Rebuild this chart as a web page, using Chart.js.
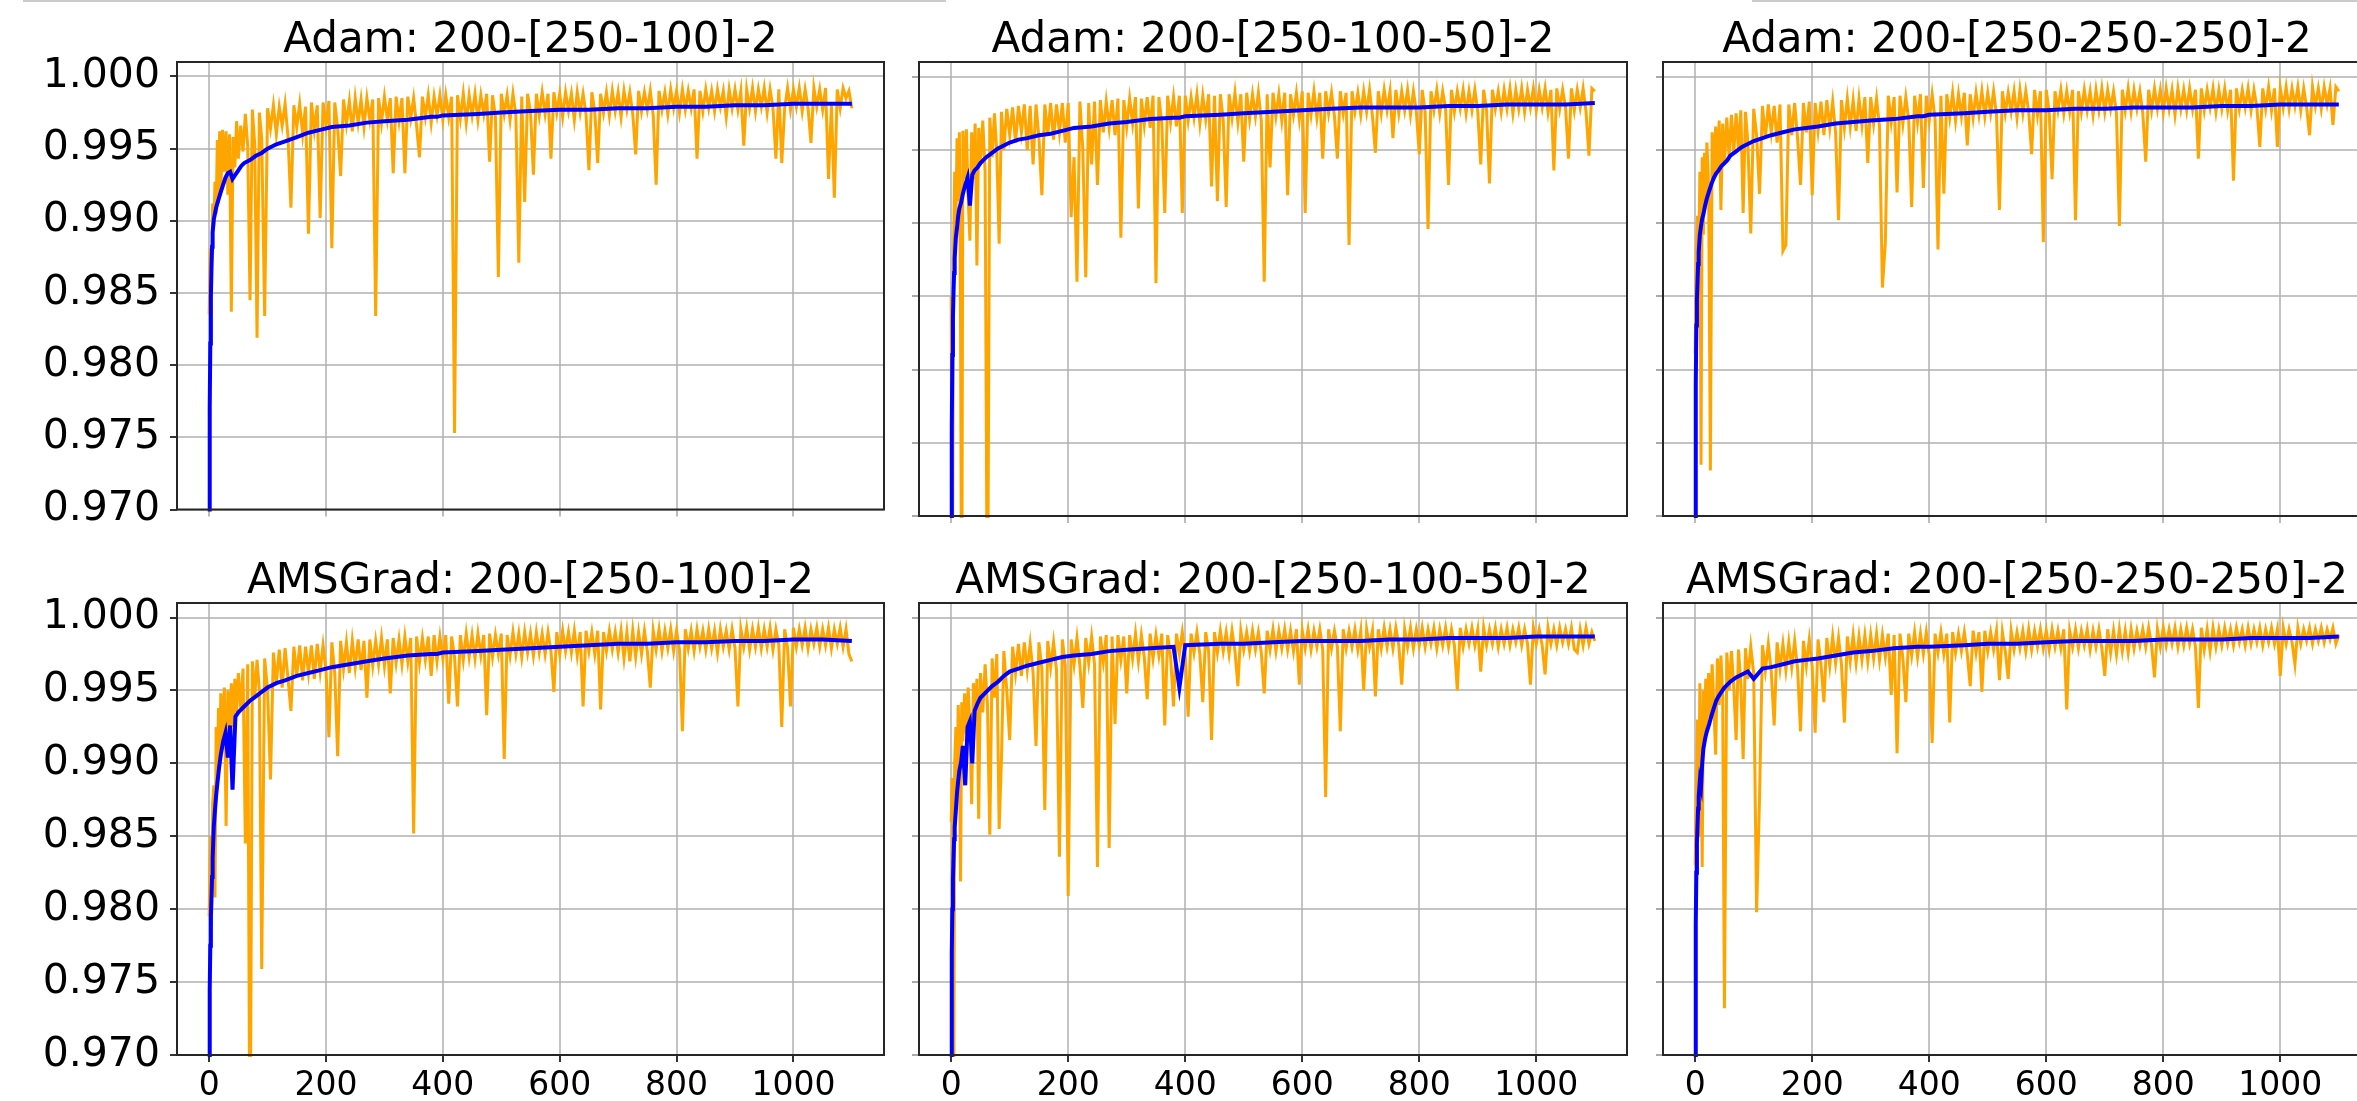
<!DOCTYPE html>
<html>
<head>
<meta charset="utf-8">
<script src="https://cdn.jsdelivr.net/npm/chart.js@4.4.1/dist/chart.umd.min.js"></script>
<style>
  html, body { margin: 0; padding: 0; background: #fff; overflow: hidden; width: 2357px; height: 1101px; }
  canvas { position: absolute; }
  .frame { position: absolute; top: 0; height: 2px; background: #cacaca; }
</style>
</head>
<body>
<div class="frame" style="left:23px;width:923px"></div>
<div class="frame" style="left:1752px;width:605px"></div>
<script>
// ticks
const xTickValues = [0, 200, 400, 600, 800, 1000];
const yTickValues = [0.970, 0.975, 0.980, 0.985, 0.990, 0.995, 1.000];

const panelTitles = [
  "Adam: 200-[250-100]-2", "Adam: 200-[250-100-50]-2", "Adam: 200-[250-250-250]-2",
  "AMSGrad: 200-[250-100]-2", "AMSGrad: 200-[250-100-50]-2", "AMSGrad: 200-[250-250-250]-2"
];

// epochs of the raw (orange) curves
const orangeEpochs = [
  0, 2, 4, 6, 8, 10, 12, 14, 16, 18,
  20, 23, 26, 29, 32, 35, 38, 41, 44, 47,
  50, 54, 58, 62, 66, 70, 74, 78, 82, 86,
  90, 95,
  100, 105, 110, 115, 120, 125, 130, 135, 140, 145,
  150, 155, 160, 165, 170, 175, 180, 185, 190, 195,
  200, 205, 210, 215, 220, 225, 230, 235, 240, 245,
  250, 255, 260, 265, 270, 275, 280, 285, 290, 295,
  300, 305, 310, 315, 320, 325, 330, 335, 340, 345,
  350, 355, 360, 365, 370, 375, 380, 385, 390, 395,
  400, 405, 410, 415, 420, 425, 430, 435, 440, 445,
  450, 455, 460, 465, 470, 475, 480, 485, 490, 495,
  500, 505, 510, 515, 520, 525, 530, 535, 540, 545,
  550, 555, 560, 565, 570, 575, 580, 585, 590, 595,
  600, 605, 610, 615, 620, 625, 630, 635, 640, 645,
  650, 655, 660, 665, 670, 675, 680, 685, 690, 695,
  700, 705, 710, 715, 720, 725, 730, 735, 740, 745,
  750, 755, 760, 765, 770, 775, 780, 785, 790, 795,
  800, 805, 810, 815, 820, 825, 830, 835, 840, 845,
  850, 855, 860, 865, 870, 875, 880, 885, 890, 895,
  900, 905, 910, 915, 920, 925, 930, 935, 940, 945,
  950, 955, 960, 965, 970, 975, 980, 985, 990, 995,
  1000, 1005, 1010, 1015, 1020, 1025, 1030, 1035, 1040, 1045,
  1050, 1055, 1060, 1065, 1070, 1075, 1080, 1085, 1090, 1095,
  1100
];

// epochs of the smoothed (blue) curves
const blueEpochs = [
  0, 1, 2, 3, 4, 5, 6, 8, 10, 12,
  14, 17, 20, 24, 28, 32, 36, 40, 45, 50,
  55, 60, 70, 80, 90, 100, 115, 130, 150, 170,
  190, 210, 240, 270, 300, 340, 380, 390, 400, 460,
  500, 550, 600, 650, 700, 750, 800, 850, 900, 950,
  1000, 1050, 1100
];

// Adam 200-[250-100]-2
const orangeAdam1 = [
  0.9835, 0.9881, 0.9852, 0.9912, 0.9896, 0.9927, 0.9905, 0.9956, 0.9912, 0.9962,
  0.9921, 0.9963, 0.9934, 0.9962, 0.9918, 0.9960, 0.9837, 0.9958, 0.9937, 0.9969,
  0.9943, 0.9966, 0.9948, 0.9974, 0.9952, 0.9845, 0.9977, 0.9953, 0.9819, 0.9975,
  0.9957, 0.9834,
  0.9978, 0.9964, 0.9980, 0.9960, 0.9979, 0.9966, 0.9981, 0.9958, 0.9909, 0.9980,
  0.9965, 0.9981, 0.9960, 0.9979, 0.9891, 0.9982, 0.9963, 0.9980, 0.9902, 0.9982,
  0.9966, 0.9983, 0.9881, 0.9982, 0.9964, 0.9931, 0.9984, 0.9967, 0.9983, 0.9962,
  0.9985, 0.9968, 0.9984, 0.9965, 0.9985, 0.9970, 0.9984, 0.9834, 0.9985, 0.9968,
  0.9986, 0.9970, 0.9985, 0.9933, 0.9986, 0.9969, 0.9985, 0.9933, 0.9986, 0.9971,
  0.9985, 0.9966, 0.9944, 0.9986, 0.9972, 0.9987, 0.9968, 0.9986, 0.9973, 0.9987,
  0.9970, 0.9987, 0.9972, 0.9986, 0.9753, 0.9987, 0.9971, 0.9988, 0.9968, 0.9987,
  0.9973, 0.9988, 0.9970, 0.9987, 0.9974, 0.9988, 0.9941, 0.9987, 0.9972, 0.9861,
  0.9988, 0.9974, 0.9987, 0.9970, 0.9988, 0.9973, 0.9871, 0.9986, 0.9913, 0.9988,
  0.9975, 0.9932, 0.9988, 0.9973, 0.9989, 0.9974, 0.9988, 0.9943, 0.9989, 0.9975,
  0.9988, 0.9972, 0.9989, 0.9976, 0.9988, 0.9970, 0.9989, 0.9975, 0.9988, 0.9974,
  0.9935, 0.9989, 0.9976, 0.9940, 0.9988, 0.9975, 0.9989, 0.9973, 0.9990, 0.9976,
  0.9989, 0.9972, 0.9990, 0.9977, 0.9989, 0.9974, 0.9946, 0.9990, 0.9976, 0.9989,
  0.9977, 0.9990, 0.9973, 0.9925, 0.9990, 0.9977, 0.9989, 0.9974, 0.9991, 0.9978,
  0.9990, 0.9975, 0.9991, 0.9977, 0.9990, 0.9978, 0.9991, 0.9943, 0.9990, 0.9976,
  0.9991, 0.9978, 0.9990, 0.9976, 0.9991, 0.9979, 0.9990, 0.9972, 0.9991, 0.9978,
  0.9991, 0.9977, 0.9990, 0.9952, 0.9991, 0.9978, 0.9992, 0.9976, 0.9991, 0.9979,
  0.9992, 0.9975, 0.9991, 0.9978, 0.9943, 0.9991, 0.9940, 0.9978, 0.9992, 0.9977,
  0.9991, 0.9979, 0.9992, 0.9976, 0.9991, 0.9978, 0.9954, 0.9992, 0.9979, 0.9991,
  0.9977, 0.9992, 0.9929, 0.9980, 0.9916, 0.9991, 0.9978, 0.9992, 0.9985, 0.9990,
  0.9978
];
const blueAdam1 = [
  0.9695, 0.9770, 0.9815, 0.9847, 0.9868, 0.9882, 0.9892, 0.9901, 0.9905, 0.9909,
  0.9912, 0.9916, 0.9920, 0.9925, 0.9930, 0.9933, 0.9934, 0.9929, 0.9932, 0.9935,
  0.9938, 0.9940, 0.9942, 0.9945, 0.9947, 0.9950, 0.9953, 0.9955, 0.9958, 0.9961,
  0.9963, 0.9965, 0.9966, 0.9968, 0.9969, 0.9970, 0.9972, 0.9972, 0.9973, 0.9974,
  0.9975, 0.9976, 0.9977, 0.9977, 0.9978, 0.9978, 0.9979, 0.9979, 0.9980, 0.9980,
  0.9981, 0.9981, 0.9981
];

// Adam 200-[250-100-50]-2
const orangeAdam2 = [
  0.9850, 0.9600, 0.9880, 0.9935, 0.9900, 0.9958, 0.9915, 0.9962, 0.9831, 0.9600,
  0.9963, 0.9930, 0.9964, 0.9918, 0.9888, 0.9962, 0.9930, 0.9968, 0.9871, 0.9965,
  0.9940, 0.9970, 0.9935, 0.9600, 0.9972, 0.9945, 0.9975, 0.9948, 0.9886, 0.9976,
  0.9950, 0.9978,
  0.9960, 0.9979, 0.9955, 0.9980, 0.9962, 0.9981, 0.9950, 0.9980, 0.9940, 0.9981,
  0.9958, 0.9919, 0.9981, 0.9960, 0.9982, 0.9957, 0.9981, 0.9962, 0.9982, 0.9955,
  0.9982, 0.9904, 0.9945, 0.9860, 0.9983, 0.9950, 0.9863, 0.9982, 0.9940, 0.9983,
  0.9926, 0.9984, 0.9962, 0.9983, 0.9965, 0.9984, 0.9960, 0.9985, 0.9890, 0.9984,
  0.9966, 0.9985, 0.9968, 0.9986, 0.9910, 0.9985, 0.9967, 0.9986, 0.9965, 0.9987,
  0.9859, 0.9986, 0.9968, 0.9907, 0.9987, 0.9969, 0.9986, 0.9966, 0.9987, 0.9907,
  0.9987, 0.9970, 0.9986, 0.9972, 0.9988, 0.9968, 0.9987, 0.9971, 0.9988, 0.9925,
  0.9987, 0.9915, 0.9988, 0.9970, 0.9911, 0.9988, 0.9972, 0.9989, 0.9969, 0.9988,
  0.9942, 0.9989, 0.9971, 0.9988, 0.9973, 0.9989, 0.9970, 0.9860, 0.9988, 0.9938,
  0.9989, 0.9973, 0.9988, 0.9970, 0.9989, 0.9919, 0.9988, 0.9974, 0.9989, 0.9971,
  0.9990, 0.9907, 0.9989, 0.9974, 0.9990, 0.9972, 0.9989, 0.9944, 0.9990, 0.9975,
  0.9989, 0.9973, 0.9944, 0.9990, 0.9975, 0.9989, 0.9885, 0.9990, 0.9976, 0.9989,
  0.9974, 0.9990, 0.9976, 0.9991, 0.9973, 0.9948, 0.9990, 0.9975, 0.9991, 0.9977,
  0.9990, 0.9958, 0.9991, 0.9975, 0.9990, 0.9977, 0.9991, 0.9974, 0.9990, 0.9976,
  0.9947, 0.9991, 0.9976, 0.9896, 0.9990, 0.9977, 0.9991, 0.9975, 0.9990, 0.9978,
  0.9926, 0.9991, 0.9976, 0.9990, 0.9978, 0.9991, 0.9975, 0.9990, 0.9977, 0.9991,
  0.9976, 0.9940, 0.9991, 0.9977, 0.9927, 0.9991, 0.9978, 0.9990, 0.9976, 0.9991,
  0.9978, 0.9992, 0.9975, 0.9991, 0.9978, 0.9992, 0.9976, 0.9991, 0.9979, 0.9992,
  0.9977, 0.9991, 0.9979, 0.9992, 0.9976, 0.9991, 0.9936, 0.9992, 0.9978, 0.9991,
  0.9979, 0.9944, 0.9992, 0.9977, 0.9991, 0.9979, 0.9992, 0.9976, 0.9946, 0.9992,
  0.9990
];
const blueAdam2 = [
  0.9690, 0.9760, 0.9810, 0.9835, 0.9853, 0.9866, 0.9876, 0.9890, 0.9897, 0.9905,
  0.9910, 0.9914, 0.9920, 0.9926, 0.9931, 0.9912, 0.9933, 0.9936, 0.9938, 0.9941,
  0.9943, 0.9945, 0.9948, 0.9951, 0.9953, 0.9955, 0.9957, 0.9958, 0.9960, 0.9961,
  0.9963, 0.9965, 0.9966, 0.9968, 0.9969, 0.9971, 0.9972, 0.9972, 0.9973, 0.9974,
  0.9975, 0.9976, 0.9977, 0.9978, 0.9979, 0.9979, 0.9979, 0.9980, 0.9980, 0.9981,
  0.9981, 0.9981, 0.9982
];

// Adam 200-[250-250-250]-2
const orangeAdam3 = [
  0.9811, 0.9880, 0.9905, 0.9870, 0.9935, 0.9735, 0.9945, 0.9892, 0.9948, 0.9915,
  0.9955, 0.9925, 0.9731, 0.9962, 0.9930, 0.9966, 0.9935, 0.9970, 0.9909, 0.9968,
  0.9940, 0.9972, 0.9945, 0.9974, 0.9948, 0.9975, 0.9950, 0.9977, 0.9907, 0.9976,
  0.9955, 0.9893,
  0.9978, 0.9960, 0.9920, 0.9980, 0.9958, 0.9981, 0.9962, 0.9980, 0.9955, 0.9981,
  0.9881, 0.9885, 0.9981, 0.9960, 0.9982, 0.9958, 0.9926, 0.9982, 0.9962, 0.9983,
  0.9919, 0.9982, 0.9963, 0.9983, 0.9960, 0.9984, 0.9965, 0.9983, 0.9962, 0.9902,
  0.9984, 0.9965, 0.9985, 0.9966, 0.9984, 0.9963, 0.9985, 0.9967, 0.9986, 0.9941,
  0.9986, 0.9968, 0.9985, 0.9966, 0.9856, 0.9887, 0.9987, 0.9969, 0.9986, 0.9921,
  0.9987, 0.9968, 0.9986, 0.9970, 0.9911, 0.9987, 0.9969, 0.9988, 0.9924, 0.9987,
  0.9970, 0.9988, 0.9971, 0.9882, 0.9987, 0.9920, 0.9988, 0.9972, 0.9989, 0.9970,
  0.9988, 0.9973, 0.9989, 0.9953, 0.9988, 0.9972, 0.9989, 0.9974, 0.9990, 0.9973,
  0.9989, 0.9975, 0.9990, 0.9974, 0.9909, 0.9990, 0.9975, 0.9989, 0.9976, 0.9990,
  0.9972, 0.9991, 0.9975, 0.9990, 0.9976, 0.9947, 0.9991, 0.9974, 0.9990, 0.9887,
  0.9991, 0.9976, 0.9930, 0.9990, 0.9977, 0.9991, 0.9975, 0.9990, 0.9976, 0.9991,
  0.9902, 0.9990, 0.9976, 0.9991, 0.9977, 0.9990, 0.9974, 0.9991, 0.9977, 0.9992,
  0.9976, 0.9991, 0.9978, 0.9990, 0.9975, 0.9898, 0.9991, 0.9977, 0.9992, 0.9976,
  0.9991, 0.9978, 0.9990, 0.9975, 0.9942, 0.9991, 0.9977, 0.9992, 0.9978, 0.9991,
  0.9976, 0.9992, 0.9978, 0.9991, 0.9974, 0.9992, 0.9978, 0.9991, 0.9977, 0.9992,
  0.9978, 0.9991, 0.9944, 0.9992, 0.9977, 0.9991, 0.9979, 0.9992, 0.9976, 0.9991,
  0.9978, 0.9992, 0.9977, 0.9991, 0.9929, 0.9992, 0.9978, 0.9991, 0.9979, 0.9992,
  0.9977, 0.9991, 0.9979, 0.9952, 0.9992, 0.9978, 0.9993, 0.9977, 0.9992, 0.9952,
  0.9992, 0.9979, 0.9993, 0.9978, 0.9992, 0.9980, 0.9993, 0.9977, 0.9992, 0.9979,
  0.9960, 0.9993, 0.9980, 0.9992, 0.9978, 0.9993, 0.9981, 0.9992, 0.9967, 0.9993,
  0.9990
];
const blueAdam3 = [
  0.9695, 0.9790, 0.9830, 0.9848, 0.9860, 0.9872, 0.9880, 0.9892, 0.9898, 0.9903,
  0.9906, 0.9912, 0.9917, 0.9922, 0.9927, 0.9931, 0.9934, 0.9936, 0.9939, 0.9941,
  0.9943, 0.9946, 0.9949, 0.9952, 0.9954, 0.9956, 0.9958, 0.9960, 0.9962, 0.9964,
  0.9965, 0.9966, 0.9968, 0.9969, 0.9970, 0.9971, 0.9973, 0.9973, 0.9974, 0.9975,
  0.9976, 0.9977, 0.9977, 0.9978, 0.9978, 0.9979, 0.9979, 0.9979, 0.9980, 0.9980,
  0.9981, 0.9981, 0.9981
];

// AMSGrad 200-[250-100]-2
const orangeAms1 = [
  0.9795, 0.9850, 0.9788, 0.9872, 0.9885, 0.9808, 0.9925, 0.9895, 0.9938, 0.9905,
  0.9948, 0.9915, 0.9952, 0.9857, 0.9950, 0.9920, 0.9955, 0.9925, 0.9958, 0.9935,
  0.9962, 0.9938, 0.9965, 0.9845, 0.9968, 0.9600, 0.9970, 0.9945, 0.9971, 0.9950,
  0.9759, 0.9972,
  0.9950, 0.9889, 0.9976, 0.9955, 0.9978, 0.9952, 0.9979, 0.9958, 0.9936, 0.9980,
  0.9960, 0.9981, 0.9957, 0.9980, 0.9962, 0.9981, 0.9958, 0.9982, 0.9963, 0.9981,
  0.9964, 0.9918, 0.9983, 0.9962, 0.9905, 0.9984, 0.9965, 0.9983, 0.9962, 0.9984,
  0.9966, 0.9985, 0.9964, 0.9984, 0.9945, 0.9985, 0.9967, 0.9984, 0.9968, 0.9986,
  0.9967, 0.9985, 0.9948, 0.9986, 0.9969, 0.9985, 0.9968, 0.9987, 0.9970, 0.9986,
  0.9852, 0.9987, 0.9969, 0.9986, 0.9971, 0.9987, 0.9960, 0.9988, 0.9970, 0.9987,
  0.9972, 0.9988, 0.9941, 0.9987, 0.9973, 0.9939, 0.9988, 0.9971, 0.9989, 0.9973,
  0.9988, 0.9972, 0.9989, 0.9974, 0.9988, 0.9933, 0.9989, 0.9973, 0.9988, 0.9975,
  0.9989, 0.9903, 0.9988, 0.9974, 0.9990, 0.9975, 0.9989, 0.9973, 0.9990, 0.9976,
  0.9989, 0.9974, 0.9990, 0.9976, 0.9989, 0.9975, 0.9990, 0.9977, 0.9949, 0.9990,
  0.9975, 0.9991, 0.9977, 0.9990, 0.9976, 0.9991, 0.9974, 0.9990, 0.9939, 0.9991,
  0.9977, 0.9990, 0.9975, 0.9991, 0.9937, 0.9990, 0.9977, 0.9991, 0.9978, 0.9990,
  0.9976, 0.9991, 0.9972, 0.9990, 0.9970, 0.9991, 0.9973, 0.9990, 0.9975, 0.9991,
  0.9977, 0.9952, 0.9991, 0.9978, 0.9992, 0.9977, 0.9991, 0.9979, 0.9992, 0.9977,
  0.9991, 0.9978, 0.9922, 0.9992, 0.9979, 0.9991, 0.9977, 0.9992, 0.9980, 0.9991,
  0.9978, 0.9992, 0.9979, 0.9991, 0.9976, 0.9992, 0.9980, 0.9991, 0.9978, 0.9992,
  0.9979, 0.9939, 0.9992, 0.9980, 0.9993, 0.9978, 0.9992, 0.9980, 0.9993, 0.9979,
  0.9992, 0.9980, 0.9993, 0.9978, 0.9992, 0.9981, 0.9925, 0.9992, 0.9979, 0.9939,
  0.9993, 0.9980, 0.9992, 0.9981, 0.9993, 0.9979, 0.9992, 0.9982, 0.9993, 0.9980,
  0.9992, 0.9981, 0.9993, 0.9979, 0.9992, 0.9982, 0.9993, 0.9980, 0.9992, 0.9975,
  0.9970
];
const blueAms1 = [
  0.9695, 0.9745, 0.9775, 0.9795, 0.9808, 0.9822, 0.9835, 0.9857, 0.9868, 0.9878,
  0.9886, 0.9897, 0.9906, 0.9915, 0.9921, 0.9904, 0.9926, 0.9882, 0.9932, 0.9935,
  0.9937, 0.9939, 0.9943, 0.9946, 0.9949, 0.9952, 0.9955, 0.9957, 0.9960, 0.9962,
  0.9964, 0.9966, 0.9968, 0.9970, 0.9972, 0.9974, 0.9975, 0.9975, 0.9976, 0.9977,
  0.9978, 0.9979, 0.9980, 0.9981, 0.9982, 0.9982, 0.9983, 0.9983, 0.9984, 0.9984,
  0.9985, 0.9985, 0.9984
];

// AMSGrad 200-[250-100-50]-2
const orangeAms2 = [
  0.9860, 0.9890, 0.9600, 0.9900, 0.9925, 0.9880, 0.9940, 0.9910, 0.9819, 0.9942,
  0.9915, 0.9948, 0.9920, 0.9952, 0.9925, 0.9872, 0.9955, 0.9930, 0.9958, 0.9862,
  0.9962, 0.9935, 0.9968, 0.9940, 0.9851, 0.9972, 0.9945, 0.9975, 0.9855, 0.9904,
  0.9977, 0.9950,
  0.9916, 0.9980, 0.9962, 0.9982, 0.9960, 0.9983, 0.9964, 0.9982, 0.9962, 0.9912,
  0.9983, 0.9965, 0.9868, 0.9984, 0.9966, 0.9983, 0.9964, 0.9836, 0.9985, 0.9967,
  0.9809, 0.9985, 0.9968, 0.9986, 0.9967, 0.9938, 0.9986, 0.9969, 0.9987, 0.9968,
  0.9829, 0.9987, 0.9970, 0.9988, 0.9842, 0.9987, 0.9927, 0.9988, 0.9971, 0.9987,
  0.9948, 0.9988, 0.9972, 0.9989, 0.9970, 0.9988, 0.9973, 0.9944, 0.9989, 0.9972,
  0.9988, 0.9974, 0.9989, 0.9926, 0.9988, 0.9973, 0.9939, 0.9989, 0.9975, 0.9990,
  0.9974, 0.9932, 0.9989, 0.9976, 0.9990, 0.9975, 0.9942, 0.9990, 0.9977, 0.9916,
  0.9990, 0.9976, 0.9991, 0.9977, 0.9990, 0.9975, 0.9991, 0.9977, 0.9953, 0.9991,
  0.9978, 0.9990, 0.9977, 0.9991, 0.9978, 0.9990, 0.9976, 0.9948, 0.9991, 0.9978,
  0.9992, 0.9977, 0.9991, 0.9979, 0.9992, 0.9978, 0.9991, 0.9977, 0.9992, 0.9954,
  0.9991, 0.9979, 0.9992, 0.9978, 0.9991, 0.9980, 0.9992, 0.9978, 0.9877, 0.9992,
  0.9979, 0.9991, 0.9980, 0.9922, 0.9992, 0.9979, 0.9991, 0.9980, 0.9992, 0.9978,
  0.9991, 0.9950, 0.9992, 0.9980, 0.9991, 0.9946, 0.9992, 0.9979, 0.9993, 0.9980,
  0.9992, 0.9979, 0.9993, 0.9981, 0.9954, 0.9992, 0.9980, 0.9993, 0.9979, 0.9992,
  0.9981, 0.9993, 0.9980, 0.9992, 0.9982, 0.9993, 0.9979, 0.9992, 0.9981, 0.9993,
  0.9980, 0.9992, 0.9981, 0.9950, 0.9993, 0.9980, 0.9992, 0.9982, 0.9993, 0.9981,
  0.9992, 0.9963, 0.9993, 0.9981, 0.9992, 0.9982, 0.9993, 0.9980, 0.9992, 0.9982,
  0.9993, 0.9981, 0.9992, 0.9983, 0.9993, 0.9981, 0.9992, 0.9982, 0.9954, 0.9993,
  0.9982, 0.9992, 0.9981, 0.9961, 0.9993, 0.9982, 0.9992, 0.9981, 0.9993, 0.9983,
  0.9992, 0.9982, 0.9993, 0.9978, 0.9976, 0.9992, 0.9981, 0.9993, 0.9982, 0.9990,
  0.9984
];
const blueAms2 = [
  0.9695, 0.9770, 0.9800, 0.9820, 0.9835, 0.9848, 0.9856, 0.9868, 0.9880, 0.9888,
  0.9895, 0.9901, 0.9912, 0.9885, 0.9925, 0.9929, 0.9900, 0.9936, 0.9941, 0.9945,
  0.9947, 0.9949, 0.9953, 0.9956, 0.9960, 0.9963, 0.9965, 0.9967, 0.9969, 0.9971,
  0.9973, 0.9974, 0.9975, 0.9977, 0.9978, 0.9979, 0.9980, 0.9952, 0.9981, 0.9982,
  0.9982, 0.9983, 0.9984, 0.9984, 0.9984, 0.9985, 0.9985, 0.9986, 0.9986, 0.9986,
  0.9987, 0.9987, 0.9987
];

// AMSGrad 200-[250-250-250]-2
const orangeAms3 = [
  0.9830, 0.9880, 0.9930, 0.9850, 0.9955, 0.9900, 0.9829, 0.9950, 0.9915, 0.9958,
  0.9925, 0.9962, 0.9930, 0.9968, 0.9938, 0.9906, 0.9972, 0.9940, 0.9974, 0.9945,
  0.9732, 0.9976, 0.9950, 0.9977, 0.9952, 0.9916, 0.9978, 0.9955, 0.9903, 0.9979,
  0.9958, 0.9980,
  0.9962, 0.9798, 0.9877, 0.9981, 0.9964, 0.9982, 0.9963, 0.9926, 0.9983, 0.9965,
  0.9982, 0.9964, 0.9983, 0.9966, 0.9984, 0.9965, 0.9922, 0.9984, 0.9967, 0.9985,
  0.9966, 0.9921, 0.9985, 0.9968, 0.9942, 0.9986, 0.9967, 0.9987, 0.9969, 0.9986,
  0.9968, 0.9928, 0.9987, 0.9970, 0.9988, 0.9969, 0.9987, 0.9971, 0.9988, 0.9970,
  0.9988, 0.9972, 0.9989, 0.9971, 0.9988, 0.9973, 0.9989, 0.9947, 0.9988, 0.9907,
  0.9989, 0.9972, 0.9942, 0.9989, 0.9974, 0.9990, 0.9973, 0.9989, 0.9975, 0.9990,
  0.9974, 0.9914, 0.9989, 0.9976, 0.9990, 0.9975, 0.9989, 0.9928, 0.9990, 0.9976,
  0.9989, 0.9977, 0.9990, 0.9975, 0.9953, 0.9991, 0.9976, 0.9990, 0.9949, 0.9991,
  0.9977, 0.9990, 0.9978, 0.9991, 0.9957, 0.9990, 0.9977, 0.9958, 0.9991, 0.9978,
  0.9990, 0.9979, 0.9991, 0.9977, 0.9992, 0.9978, 0.9991, 0.9980, 0.9992, 0.9979,
  0.9991, 0.9978, 0.9992, 0.9980, 0.9991, 0.9979, 0.9992, 0.9937, 0.9991, 0.9980,
  0.9992, 0.9979, 0.9991, 0.9981, 0.9992, 0.9978, 0.9991, 0.9980, 0.9992, 0.9979,
  0.9960, 0.9992, 0.9976, 0.9991, 0.9975, 0.9992, 0.9977, 0.9991, 0.9976, 0.9992,
  0.9979, 0.9991, 0.9981, 0.9992, 0.9980, 0.9993, 0.9981, 0.9959, 0.9992, 0.9980,
  0.9993, 0.9981, 0.9992, 0.9982, 0.9993, 0.9980, 0.9992, 0.9981, 0.9993, 0.9982,
  0.9992, 0.9980, 0.9938, 0.9993, 0.9978, 0.9992, 0.9977, 0.9993, 0.9980, 0.9992,
  0.9981, 0.9993, 0.9982, 0.9992, 0.9981, 0.9993, 0.9983, 0.9992, 0.9981, 0.9993,
  0.9982, 0.9992, 0.9983, 0.9993, 0.9981, 0.9992, 0.9983, 0.9993, 0.9982, 0.9992,
  0.9960, 0.9993, 0.9982, 0.9992, 0.9983, 0.9968, 0.9993, 0.9982, 0.9992, 0.9984,
  0.9993, 0.9982, 0.9992, 0.9984, 0.9993, 0.9983, 0.9992, 0.9985, 0.9993, 0.9982,
  0.9988
];
const blueAms3 = [
  0.9695, 0.9790, 0.9825, 0.9845, 0.9858, 0.9869, 0.9877, 0.9888, 0.9884, 0.9900,
  0.9910, 0.9917, 0.9922, 0.9927, 0.9933, 0.9938, 0.9943, 0.9946, 0.9949, 0.9952,
  0.9954, 0.9956, 0.9959, 0.9961, 0.9963, 0.9958, 0.9965, 0.9966, 0.9968, 0.9970,
  0.9971, 0.9972, 0.9974, 0.9976, 0.9977, 0.9979, 0.9980, 0.9980, 0.9980, 0.9981,
  0.9982, 0.9982, 0.9983, 0.9984, 0.9984, 0.9984, 0.9985, 0.9985, 0.9985, 0.9986,
  0.9986, 0.9986, 0.9987
];

const orangeSeries = [orangeAdam1, orangeAdam2, orangeAdam3, orangeAms1, orangeAms2, orangeAms3];
const blueSeries = [blueAdam1, blueAdam2, blueAdam3, blueAms1, blueAms2, blueAms3];

// page layout (pixels)
const cols = [
  { left: 0, width: 900, axisW: 177, padR: 16, yLabels: true },
  { left: 890, width: 750, axisW: 29, padR: 13, yLabels: false },
  { left: 1634, width: 751, axisW: 29, padR: 14, yLabels: false },
];
const rows = [
  { top: 0, height: 540, titleTop: 20, axisH: 24, xLabels: false },
  { top: 540, height: 561, titleTop: 21, axisH: 46, xLabels: true },
];

Chart.defaults.font.family = "'DejaVu Sans', sans-serif";
const gridColor = "rgba(176, 176, 176, 0.75)";

// box around the plot area, like matplotlib spines
const framePlugin = {
  id: "frame",
  afterDatasetsDraw(chart) {
    const { ctx, chartArea: a } = chart;
    ctx.save();
    ctx.strokeStyle = "#262626";
    ctx.lineWidth = 2;
    ctx.strokeRect(a.left, a.top, a.right - a.left, a.bottom - a.top);
    ctx.restore();
  },
};

for (let p = 0; p < 6; p++) {
  const row = rows[Math.floor(p / 3)];
  const col = cols[p % 3];

  const canvas = document.createElement("canvas");
  canvas.width = col.width;
  canvas.height = row.height;
  canvas.style.left = col.left + "px";
  canvas.style.top = row.top + "px";
  document.body.appendChild(canvas);

  new Chart(canvas, {
    type: "line",
    data: {
      datasets: [
        {
          label: "smoothed",
          data: blueEpochs.map((e, i) => ({ x: e, y: blueSeries[p][i] })),
          borderColor: "#0000ff",
          borderWidth: 4,
          pointRadius: 0,
          tension: 0,
          clip: 2,
        },
        {
          label: "raw",
          data: orangeEpochs.map((e, i) => ({ x: e, y: orangeSeries[p][i] })),
          borderColor: "#ffa500",
          borderWidth: 3,
          pointRadius: 0,
          tension: 0,
          clip: 2,
        },
      ],
    },
    options: {
      responsive: false,
      animation: false,
      events: [],
      layout: { padding: { left: 0, top: 0, right: col.padR, bottom: 0 } },
      plugins: {
        legend: { display: false },
        tooltip: { enabled: false },
        title: {
          display: true,
          text: panelTitles[p],
          fullSize: false,
          color: "#000",
          font: { size: 42, weight: "normal", lineHeight: 1 },
          padding: { top: row.titleTop, bottom: 0 },
        },
      },
      scales: {
        x: {
          type: "linear",
          min: -55,
          max: 1155,
          afterBuildTicks: (s) => { s.ticks = xTickValues.map((v) => ({ value: v })); },
          afterFit: (s) => { s.height = row.axisH; },
          border: { display: false },
          grid: {
            color: gridColor,
            lineWidth: 2,
            drawTicks: true,
            tickLength: 7,
            tickColor: row.xLabels ? "#333" : "#bbb",
            tickWidth: 2,
          },
          ticks: {
            display: row.xLabels,
            autoSkip: false,
            maxRotation: 0,
            padding: 8,
            color: "#000",
            font: { size: 33, lineHeight: 1 },
            callback: (v) => String(v),
          },
        },
        y: {
          min: 0.970,
          max: 1.001,
          afterBuildTicks: (s) => { s.ticks = yTickValues.map((v) => ({ value: v })); },
          afterFit: (s) => { s.width = col.axisW; },
          border: { display: false },
          grid: {
            color: gridColor,
            lineWidth: 2,
            drawTicks: true,
            tickLength: 7,
            tickColor: col.yLabels ? "#333" : "#aaa",
            tickWidth: 2,
          },
          ticks: {
            display: col.yLabels,
            padding: 10,
            color: "#000",
            font: { size: 41, lineHeight: 1 },
            callback: (v) => v.toFixed(3),
          },
        },
      },
    },
    plugins: [framePlugin],
  });
}
</script>
</body>
</html>
